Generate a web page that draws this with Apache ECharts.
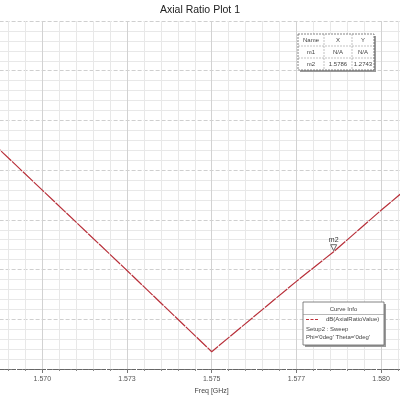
<!DOCTYPE html>
<html>
<head>
<meta charset="utf-8">
<script src="https://cdn.jsdelivr.net/npm/echarts@6/dist/echarts.min.js"></script>
<style>html,body{margin:0;padding:0;background:#fff;}#c{width:400px;height:400px;}</style>
</head>
<body>
<div id="c"></div>
<script>
const freqs = [1.5675, 1.5700, 1.5725, 1.5750, 1.5775, 1.5786, 1.5800, 1.5825];
const axialRatio = [2.815, 1.943, 1.070, 0.188, 0.952, 1.2743, 1.724, 2.498];
const xTickLabels = ['1.568', '1.570', '1.573', '1.575', '1.577', '1.580', '1.583'];
const markerNames = ['m1', 'm2'];
const markerX = ['N/A', '1.5786'];
const markerY = ['N/A', '1.2743'];
const m2Point = [1.5786, 1.2743];
const curveInfo = ['dB(AxialRatioValue)', 'Setup2 : Sweep', "Phi='0deg' Theta='0deg'"];

const X_MIN = 1.5675, X_MAX = 1.5825, X_INT = 0.0025;
const chart = echarts.init(document.getElementById('c'), null, {renderer: 'canvas'});
const FONT = 'Liberation Sans, Arial, sans-serif';

const tbl = {x: 298, y: 34, w: 76, h: 36};
const colX = [298, 324, 352, 374];
const rowY = [34, 46, 58, 70];
const g = [];
g.push({type: 'rect', shape: {x: tbl.x + 2, y: tbl.y + 2, width: tbl.w, height: tbl.h}, style: {fill: '#9a9a9a'}, z: 10});
g.push({type: 'rect', shape: {x: tbl.x, y: tbl.y, width: tbl.w, height: tbl.h}, style: {fill: '#fff', stroke: '#666', lineWidth: 0.8, lineDash: [2, 1]}, z: 11});
[1, 2].forEach(i => g.push({type: 'line', shape: {x1: colX[i], y1: rowY[0], x2: colX[i], y2: rowY[3]}, style: {stroke: '#999', lineWidth: 0.6, lineDash: [2, 1]}, z: 12}));
[1, 2].forEach(i => g.push({type: 'line', shape: {x1: colX[0], y1: rowY[i], x2: colX[3], y2: rowY[i]}, style: {stroke: '#999', lineWidth: 0.6, lineDash: [2, 1]}, z: 12}));
const rows = [['Name', 'X', 'Y']].concat(markerNames.map((n, i) => [n, markerX[i], markerY[i]]));
rows.forEach((r, ri) => r.forEach((t, ci) => g.push({
  type: 'text', x: (colX[ci] + colX[ci + 1]) / 2, y: (rowY[ri] + rowY[ri + 1]) / 2, z: 13,
  style: {text: t, fontSize: 6, fontFamily: FONT, fill: '#444', align: 'center', verticalAlign: 'middle'}
})));

const ci = {x: 303, y: 302, w: 81, h: 43};
g.push({type: 'rect', shape: {x: ci.x + 2, y: ci.y + 2, width: ci.w, height: ci.h}, style: {fill: '#9a9a9a'}, z: 10});
g.push({type: 'rect', shape: {x: ci.x, y: ci.y, width: ci.w, height: ci.h}, style: {fill: '#fff', stroke: '#666', lineWidth: 0.8}, z: 11});
g.push({type: 'line', shape: {x1: ci.x, y1: 314.5, x2: ci.x + ci.w, y2: 314.5}, style: {stroke: '#888', lineWidth: 0.6}, z: 12});
g.push({type: 'text', x: ci.x + ci.w / 2, y: 309, z: 13, style: {text: 'Curve Info', fontSize: 6, fontFamily: FONT, fill: '#444', align: 'center', verticalAlign: 'middle'}});
g.push({type: 'line', shape: {x1: 306, y1: 319.5, x2: 319, y2: 319.5}, style: {stroke: '#c0303a', lineWidth: 1, lineDash: [3, 1.5]}, z: 12});
g.push({type: 'text', x: 326, y: 319.5, z: 13, style: {text: curveInfo[0], fontSize: 6, fontFamily: FONT, fill: '#444', align: 'left', verticalAlign: 'middle'}});
g.push({type: 'text', x: 306, y: 329, z: 13, style: {text: curveInfo[1], fontSize: 6, fontFamily: FONT, fill: '#444', align: 'left', verticalAlign: 'middle'}});
g.push({type: 'text', x: 306, y: 337.5, z: 13, style: {text: curveInfo[2], fontSize: 6, fontFamily: FONT, fill: '#444', align: 'left', verticalAlign: 'middle'}});

chart.setOption({
  animation: false,
  backgroundColor: '#fff',
  title: {text: 'Axial Ratio Plot 1', left: 'center', top: 0,
    textStyle: {fontSize: 10.5, fontWeight: 'normal', color: '#222', fontFamily: FONT}},
  grid: {left: -42.4, right: -65.8, top: 21, bottom: 31, containLabel: false, outerBoundsMode: 'none'},
  xAxis: [{
    type: 'value', min: X_MIN, max: X_MAX, interval: X_INT,
    name: 'Freq [GHz]', nameLocation: 'middle', nameGap: 19,
    nameTextStyle: {fontSize: 7, color: '#444', fontFamily: FONT},
    axisLine: {show: true, onZero: false, lineStyle: {color: '#777', width: 1, type: [3, 2]}},
    axisTick: {show: true, length: 4, lineStyle: {color: '#777'}},
    minorTick: {show: true, splitNumber: 5, length: 2, lineStyle: {color: '#888'}},
    axisLabel: {fontSize: 7, color: '#555', margin: 7, fontFamily: FONT,
      formatter: v => xTickLabels[Math.round((v - X_MIN) / X_INT)]},
    splitLine: {show: true, lineStyle: {color: '#d2d2d2', width: 1}},
    minorSplitLine: {show: true, lineStyle: {color: '#e8e8e8', width: 1}}
  }, {
    type: 'value', position: 'top', min: X_MIN, max: X_MAX, interval: X_INT,
    axisLine: {show: true, lineStyle: {color: '#666', width: 1, type: [4, 2]}},
    axisTick: {show: false}, axisLabel: {show: false}, splitLine: {show: false}
  }],
  yAxis: {
    type: 'value', min: 0, max: 3.78, interval: 0.54,
    axisLine: {show: false}, axisTick: {show: false}, axisLabel: {show: false},
    splitLine: {show: true, lineStyle: {color: '#cfcfcf', width: 1, type: [4, 2]}},
    minorTick: {show: false, splitNumber: 5},
    minorSplitLine: {show: true, lineStyle: {color: '#e8e8e8', width: 1}}
  },
  series: [{
    type: 'line', xAxisIndex: 0,
    data: freqs.map((f, i) => [f, axialRatio[i]]),
    showSymbol: false, symbol: 'none',
    lineStyle: {color: '#b8303a', width: 1.2, type: [14, 1]},
    markPoint: {
      data: [{coord: m2Point, name: 'm2'}],
      symbol: 'triangle', symbolRotate: 180, symbolSize: 6, symbolOffset: [0, -4],
      itemStyle: {color: '#fff', borderColor: '#444', borderWidth: 0.8},
      label: {show: true, position: 'top', distance: 1, formatter: 'm2', fontSize: 7, color: '#333', fontFamily: FONT}
    }
  }],
  graphic: g
});
</script>
</body>
</html>
